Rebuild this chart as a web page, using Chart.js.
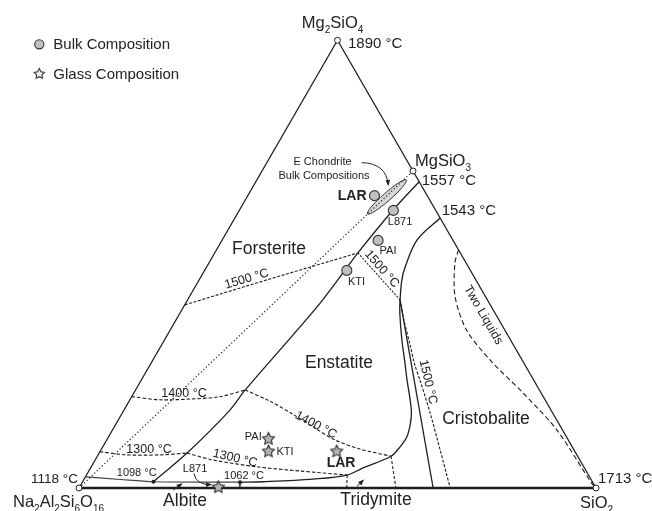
<!DOCTYPE html>
<html><head><meta charset="utf-8">
<script src="https://cdn.jsdelivr.net/npm/chart.js@4.4.1/dist/chart.umd.min.js"></script>
<style>html,body{margin:0;padding:0;background:#fff;}canvas{display:block;}</style>
</head><body>
<canvas id="c" width="652" height="511"></canvas>
<script>
// ===== DATA (ternary, [SiO2 wt%, Mg2SiO4 wt%]; remainder = Na2Al2Si6O16) =====
const vertices = [[0,100],[0,0],[100,0]];
const mgsio3 = [29.2,70.8];
const triangleSides = [[100,0],[0,100],[0,0]];
const albiteSilicaJoin = [[0,0],[100,0]];
const feldsparEnstatiteJoin = [[0,0],[29.2,70.8]];
const forsteriteEnstatite = [[31.6,68.4],[29.7,62.1],[27.7,52.5],[26.0,41.3],[21.2,21.9],[20.5,17.4],[17.0,7.8],[13.7,1.4]];
const feldsparCotectic = [[0,2.5],[7.0,1.9],[13.7,1.4],[30.5,1.3]];
const enstatiteSilica = [[30.5,1.3],[34.9,1.4],[44.3,2.0],[50.4,2.9],[52.7,4.5],[56.8,7.1],[57.5,9.2],[57.7,11.4],[57.0,14.1],[55.9,16.8],[54.2,19.7],[51.4,24.1],[49.1,27.9],[45.9,33.1],[42.5,39.1],[41.1,42.0],[39.2,46.5],[38.4,49.4],[37.7,55.4],[39.7,60.3]];
const cristobaliteTridymite = [[41.1,42.0],[68.5,0]];
const iso1500Fo = [[0,40.9],[13.6,46.7],[27.7,52.5]];
const iso1500En = [[27.7,52.5],[41.1,42.0]];
const iso1500Si = [[41.1,42.0],[44.1,37.5],[48.1,31.9],[51.2,27.5],[53.9,24.1],[59.5,16.8],[65.6,8.5],[71.8,0]];
const iso1400Fo = [[0,20.4],[5.8,19.7],[12.1,19.9],[17.1,20.4],[21.2,21.9]];
const iso1400En = [[21.2,21.9],[27.2,19.4],[33.1,16.5],[38.9,13.4],[44.2,10.7],[50.0,8.7],[56.8,7.1]];
const iso1300Fo = [[0,8.1],[5.6,7.4],[12.0,7.4],[17.0,7.8]];
const iso1300En = [[17.0,7.8],[22.8,6.25],[32.3,4.7],[40.8,3.8],[50.4,2.9]];
const tridymiteLimitA = [[50.4,2.9],[51.8,0]];
const tridymiteLimitB = [[56.8,7.1],[61.3,0]];
const tick1062 = [[30.5,1.3],[31.1,0]];
const twoLiquids = [[46.8,53.2],[47.6,50.2],[51.4,42.7],[57.3,35.3],[65.2,28.6],[75.3,21.2],[85.9,13.0],[98.6,1.1],[100,0]];
const invariantPoints = [[13.7,1.4],[30.5,1.3]];
const bulkNames = ['LAR','L871','PAI','KTI'];
const bulkSiO2 = [24.5,29.8,30.2,27.5];
const bulkMg2SiO4 = [65.3,62.0,55.3,48.6];
const glassNames = ['PAI','KTI','LAR','L871'];
const glassSiO2 = [31.1,32.5,45.7,26.8];
const glassMg2SiO4 = [11.1,8.3,8.3,0.3];
const eChondriteRange = [[25.2,61.2],[28.9,68.8]];

// ===== helpers =====
const FONT = '"Liberation Sans", Arial, Helvetica, sans-serif';
const T = p => ({x: p[0] + p[1]/2, y: p[1]*Math.sqrt(3)/2});
const INK = '#1e1e1e';

function drawStar(g, cx, cy, R, r, fill, stroke, lw){
  g.beginPath();
  for(let i=0;i<10;i++){const rad=i%2?r:R;const a=-Math.PI/2+i*Math.PI/5;const px=cx+rad*Math.cos(a),py=cy+rad*Math.sin(a);i?g.lineTo(px,py):g.moveTo(px,py);}
  g.closePath();g.fillStyle=fill;g.fill();g.lineWidth=lw;g.strokeStyle=stroke;g.lineJoin='miter';g.stroke();
}
function starCanvas(R, fill){
  const s=Math.ceil(R*2+4);const c=document.createElement('canvas');c.width=s;c.height=s;
  drawStar(c.getContext('2d'),s/2,s/2+0.6,R,R*0.5,fill,'#333',1.1);return c;
}
function line(data, o){
  return Object.assign({data:data.map(T),showLine:true,pointRadius:0,pointHoverRadius:0,borderColor:INK,borderWidth:1.2,fill:false,tension:0,order:5,clip:false},o||{});
}

const datasets = [
  {data:bulkSiO2.map((s,i)=>T([s,bulkMg2SiO4[i]])),pointStyle:'circle',pointRadius:5,backgroundColor:'#c0c0c0',borderColor:'#333',borderWidth:1.1,order:0,clip:false},
  {data:glassSiO2.map((s,i)=>T([s,glassMg2SiO4[i]])),pointStyle:starCanvas(6.3,'#b3b3b3'),order:0,clip:false},
  {data:vertices.concat([mgsio3]).map(T),pointStyle:'circle',pointRadius:3,backgroundColor:'#fff',borderColor:INK,borderWidth:1,order:1,clip:false},
  {data:invariantPoints.map(T),pointStyle:'circle',pointRadius:2,backgroundColor:INK,borderColor:INK,borderWidth:0,order:1,clip:false},
  line(triangleSides,{borderWidth:1.3}),
  line(albiteSilicaJoin,{borderWidth:2.7}),
  line(feldsparEnstatiteJoin,{borderWidth:1.2,borderDash:[1.2,2.3]}),
  line(forsteriteEnstatite,{borderWidth:1.3,tension:0.3}),
  line(feldsparCotectic,{borderWidth:1.2,borderColor:'#444',tension:0.3}),
  line(enstatiteSilica,{borderWidth:1.3,tension:0.35}),
  line(cristobaliteTridymite,{borderWidth:1.3}),
  line(iso1500Fo,{borderDash:[3,1.6],borderWidth:1.1}),
  line(iso1500En,{borderDash:[2,1.4],borderWidth:1.1}),
  line(iso1500Si,{borderDash:[3,1.6],borderWidth:1.1,tension:0.3}),
  line(iso1400Fo,{borderDash:[3.5,2],borderWidth:1.1,tension:0.3}),
  line(iso1400En,{borderDash:[3.5,2],borderWidth:1.1,tension:0.3}),
  line(iso1300Fo,{borderDash:[3.5,2],borderWidth:1.1,tension:0.3}),
  line(iso1300En,{borderDash:[3.5,2],borderWidth:1.1,tension:0.3}),
  line(tridymiteLimitA,{borderDash:[3,2],borderWidth:1.1}),
  line(tridymiteLimitB,{borderDash:[3,2],borderWidth:1.1}),
  line(tick1062,{borderWidth:1.4}),
  line(twoLiquids,{borderDash:[5,3],borderWidth:1.1,tension:0.3})
];

// ===== annotations (positions in chart units) =====
const sub = (p)=>p;
const richLabels = [
  {parts:[['Mg'],['2',1],['SiO'],['4',1]], x:43.08, y:88.88, s:16.5},
  {parts:[['MgSiO'],['3',1]], x:64.99, y:62.28, s:16.5},
  {parts:[['Na'],['2',1],['Al'],['2',1],['Si'],['6',1],['O'],['16',1]], x:-12.77, y:-3.67, s:16.5},
  {parts:[['SiO'],['2',1]], x:96.90, y:-3.87, s:16.5}
];
const labels = [
  {t:'1890 °C',x:52.03,y:85.20,s:15,a:'left',b:'alphabetic'},
  {t:'1557 °C',x:66.29,y:58.61,s:15,a:'left',b:'alphabetic'},
  {t:'1543 °C',x:70.15,y:52.80,s:15,a:'left',b:'alphabetic'},
  {t:'1713 °C',x:100.38,y:0.97,s:15,a:'left',b:'alphabetic'},
  {t:'1118 °C',x:-0.19,y:0.97,s:13.5,a:'right',b:'alphabetic'},
  {t:'1098 °C',x:11.16,y:2.90,s:11},
  {t:'1062 °C',x:31.91,y:2.42,s:11},
  {t:'1300 °C',x:13.54,y:7.35,s:12.5},
  {t:'1400 °C',x:20.31,y:18.18,s:12.5},
  {t:'1500 °C',x:32.44,y:40.42,s:12.5,r:-16.5},
  {t:'1500 °C',x:58.55,y:42.36,s:12.5,r:48.6},
  {t:'1500 °C',x:67.50,y:20.50,s:12.5,r:77},
  {t:'1400 °C',x:45.80,y:12.19,s:12.5,r:28},
  {t:'1300 °C',x:30.17,y:5.74,s:12.5,r:13},
  {t:'Two Liquids',x:78.20,y:33.46,s:12.5,r:60},
  {t:'Forsterite',x:36.75,y:46.23,s:17.5},
  {t:'Enstatite',x:50.29,y:24.08,s:17.5},
  {t:'Cristobalite',x:78.72,y:13.35,s:17.5},
  {t:'Tridymite',x:57.45,y:-2.42,s:17.5},
  {t:'Albite',x:20.50,y:-2.61,s:17.5},
  {t:'E Chondrite',x:47.10,y:63.05,s:11},
  {t:'Bulk Compositions',x:47.39,y:60.35,s:11},
  {t:bulkNames[0],x:55.61,y:56.48,s:14,a:'right',w:'bold'},
  {t:bulkNames[1],x:62.09,y:51.45,s:11},
  {t:bulkNames[2],x:59.77,y:45.84,s:11},
  {t:bulkNames[3],x:53.67,y:39.84,s:11},
  {t:glassNames[0],x:33.71,y:9.92,s:11},
  {t:glassNames[1],x:39.84,y:7.02,s:11},
  {t:glassNames[2],x:50.68,y:4.74,s:14,w:'bold'},
  {t:glassNames[3],x:22.44,y:3.67,s:11}
];
const arrows = [
  {from:[54.68,62.92],ctrl:[59.38,62.86],to:[59.83,58.61]},
  {from:[22.24,2.80],ctrl:[22.63,0.58],to:[25.53,0.68]},
  {from:[18.24,-0.39],ctrl:[19.05,0.21],to:[19.86,0.81]},
  {from:[53.71,0.25],ctrl:[54.35,0.87],to:[54.99,1.49]}
];

const ellipsePlugin = {
  id:'ellipse',
  beforeDatasetsDraw(chart){
    const {ctx,scales:{x,y}}=chart;
    const a=T(eChondriteRange[0]),b=T(eChondriteRange[1]);
    const x1=x.getPixelForValue(a.x),y1=y.getPixelForValue(a.y),x2=x.getPixelForValue(b.x),y2=y.getPixelForValue(b.y);
    const cx=(x1+x2)/2,cy=(y1+y2)/2,len=Math.hypot(x2-x1,y2-y1),ang=Math.atan2(y2-y1,x2-x1);
    ctx.save();ctx.beginPath();ctx.ellipse(cx,cy,len/2,4,ang,0,Math.PI*2);
    ctx.fillStyle='#d6d6d6';ctx.fill();ctx.lineWidth=1;ctx.strokeStyle='#333';ctx.stroke();ctx.restore();
  }
};

const annotPlugin = {
  id:'annot',
  afterDatasetsDraw(chart){
    const {ctx,scales:{x,y}}=chart;
    const X=v=>x.getPixelForValue(v),Y=v=>y.getPixelForValue(v);
    ctx.save();
    ctx.fillStyle='#222';
    labels.forEach(L=>{
      ctx.save();
      ctx.translate(X(L.x),Y(L.y));
      if(L.r)ctx.rotate(L.r*Math.PI/180);
      ctx.font=(L.w?L.w+' ':'')+L.s+'px '+FONT;
      ctx.textAlign=L.a||'center';ctx.textBaseline=L.b||'middle';
      ctx.fillText(L.t,0,0);
      ctx.restore();
    });
    richLabels.forEach(L=>{
      let cx=X(L.x);const by=Y(L.y);
      const main=L.s+'px '+FONT,sm=Math.round(L.s*0.62)+'px '+FONT;
      ctx.textAlign='left';ctx.textBaseline='alphabetic';
      L.parts.forEach(p=>{ctx.font=p[1]?sm:main;ctx.fillText(p[0],cx,by+(p[1]?L.s*0.3:0));cx+=ctx.measureText(p[0]).width;});
    });
    // arrows
    ctx.strokeStyle='#222';ctx.lineWidth=1;
    arrows.forEach(A=>{
      const fx=X(A.from[0]),fy=Y(A.from[1]),qx=X(A.ctrl[0]),qy=Y(A.ctrl[1]),tx=X(A.to[0]),ty=Y(A.to[1]);
      ctx.beginPath();ctx.moveTo(fx,fy);ctx.quadraticCurveTo(qx,qy,tx,ty);ctx.stroke();
      const ang=Math.atan2(ty-qy,tx-qx),L=5,W=2.3;
      ctx.beginPath();ctx.moveTo(tx+Math.cos(ang)*1,ty+Math.sin(ang)*1);
      ctx.lineTo(tx-Math.cos(ang)*L-Math.sin(ang)*W,ty-Math.sin(ang)*L+Math.cos(ang)*W);
      ctx.lineTo(tx-Math.cos(ang)*L+Math.sin(ang)*W,ty-Math.sin(ang)*L-Math.cos(ang)*W);
      ctx.closePath();ctx.fill();
    });
    // legend
    const la=chart.chartArea;
    ctx.beginPath();ctx.arc(la.left+39.3,la.top+44.3,4.6,0,Math.PI*2);ctx.fillStyle='#c0c0c0';ctx.fill();ctx.lineWidth=1.1;ctx.strokeStyle='#333';ctx.stroke();
    drawStar(ctx,la.left+39.3,la.top+74,5.4,2.7,'#f2f2f2','#333',1.1);
    ctx.fillStyle='#222';ctx.font='15px '+FONT;ctx.textAlign='left';ctx.textBaseline='middle';
    ctx.fillText('Bulk Composition',la.left+53.3,la.top+45);
    ctx.fillText('Glass Composition',la.left+53.3,la.top+74.5);
    ctx.restore();
  }
};

new Chart(document.getElementById('c'),{
  type:'scatter',
  data:{datasets},
  options:{
    responsive:false,animation:false,events:[],
    layout:{padding:0,autoPadding:false},
    scales:{x:{type:'linear',min:-15.28,max:110.83,display:false},y:{type:'linear',min:-4.449,max:94.39,display:false}},
    plugins:{legend:{display:false},tooltip:{enabled:false}}
  },
  plugins:[ellipsePlugin,annotPlugin]
});
</script>
</body></html>
